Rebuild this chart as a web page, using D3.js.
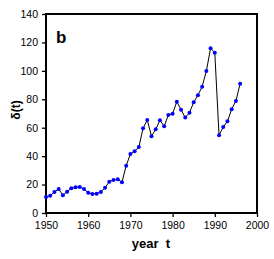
<!DOCTYPE html>
<html><head><meta charset="utf-8">
<script src="https://cdn.jsdelivr.net/npm/d3@7/dist/d3.min.js"></script>
<style>body{margin:0;background:#fff}svg{display:block}</style>
</head><body>
<script>
const years = d3.range(1950, 1997);
const values = [11.3,12.2,14.8,16.9,12.5,15.0,17.4,18.1,18.3,16.9,
  14.3,13.4,13.6,14.8,17.8,22.0,23.2,23.7,21.6,33.3,
  41.5,43.4,46.4,59.6,65.4,54.0,58.9,65.2,61.0,69.0,
  69.9,78.3,72.7,67.1,70.6,77.9,82.8,88.9,99.9,115.9,
  112.8,54.7,60.5,64.5,73.0,78.8,91.0];
const xTicks = [1950,1960,1970,1980,1990,2000];
const yTicks = [0,20,40,60,80,100,120,140];

const W=274,H=259, L=46,R=257,T=14,B=213;
const svg=d3.select("body").append("svg").attr("width",W).attr("height",H);
const x=d3.scaleLinear().domain([1950,2000]).range([L,R]);
const y=d3.scaleLinear().domain([0,140]).range([B,T]);
const font="Arial, 'Liberation Sans', sans-serif";

const ax=svg.append("g").attr("transform",`translate(0,${B})`)
  .call(d3.axisBottom(x).tickValues(xTicks).tickFormat(d3.format("d")).tickSize(4).tickPadding(5));
const ay=svg.append("g").attr("transform",`translate(${L},0)`)
  .call(d3.axisLeft(y).tickValues(yTicks).tickSize(4).tickPadding(4));
[ax,ay].forEach(g=>{g.select(".domain").remove();
  g.selectAll("text").attr("font-family",font).attr("font-size",10.5).attr("fill","#000");
  g.selectAll("line").attr("stroke","#000").attr("stroke-width",1.3);});

svg.append("rect").attr("x",L).attr("y",T).attr("width",R-L).attr("height",B-T)
  .attr("fill","none").attr("stroke","#000").attr("stroke-width",2);

const line=d3.line().x((d,i)=>x(years[i])).y(d=>y(d));
svg.append("path").datum(values).attr("d",line).attr("fill","none").attr("stroke","#000").attr("stroke-width",1);
svg.selectAll("circle.p").data(values).enter().append("circle")
  .attr("cx",(d,i)=>x(years[i])).attr("cy",d=>y(d)).attr("r",2).attr("fill","#0000ff");

svg.append("text").attr("x",56).attr("y",43).text("b")
  .attr("font-family",font).attr("font-weight","bold").attr("font-size",17);
svg.append("text").attr("x",151).attr("y",248).attr("text-anchor","middle").text("year  t")
  .attr("font-family",font).attr("font-weight","bold").attr("font-size",13).attr("xml:space","preserve").style("white-space","pre");
svg.append("text").attr("transform","translate(20,110) rotate(-90)").attr("text-anchor","middle").text("δ(t)")
  .attr("font-family",font).attr("font-weight","bold").attr("font-size",12);
</script>
</body></html>
